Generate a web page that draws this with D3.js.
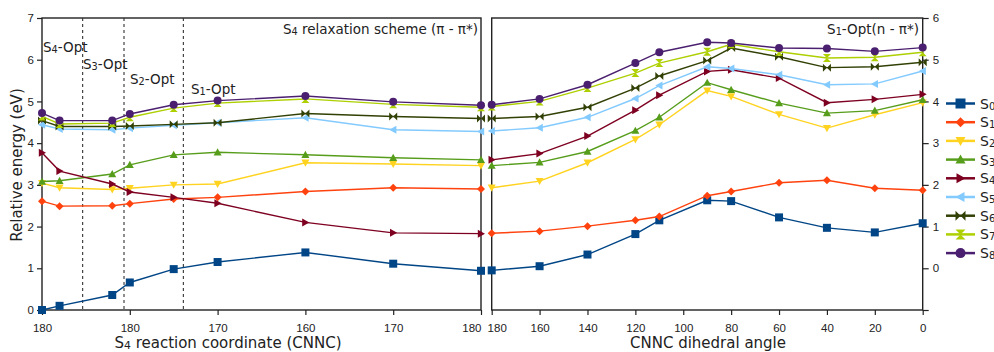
<!DOCTYPE html>
<html>
<head>
<meta charset="utf-8">
<script src="https://cdn.jsdelivr.net/npm/d3@7/dist/d3.min.js"></script>
<style>
  html, body { margin: 0; padding: 0; background: #fff; }
  svg { display: block; font-family: "DejaVu Sans", sans-serif; }
  .axis text { font-size: 11.5px; fill: #222; }
  .axis path, .axis line { stroke: #222; stroke-width: 1.2; }
</style>
</head>
<body>
<svg id="chart" width="994" height="352"></svg>
<script>
// ---- data ----
const seriesNames = ["S0", "S1", "S2", "S3", "S4", "S5", "S6", "S7", "S8"];
const seriesColors = ["#004586", "#ff420e", "#ffd320", "#579d1c", "#7e0021", "#83caff", "#314004", "#aecf00", "#4b1f6f"];
const seriesMarkers = ["square", "diamond", "down", "up", "right", "left", "bowtie", "hourglass", "circle"];

// S4 relaxation path: points along the reaction coordinate (tick index units)
const leftX = [0, 0.2, 0.8, 1, 1.5, 2, 3, 4, 5];
const leftTickValues = [0, 1, 2, 3, 4, 5];
const leftTickLabels = ["180", "180", "170", "160", "170", "180"];
// Relative energies (eV) of each state along the S4 relaxation path
const leftEnergies = [
  [0.00, 0.10, 0.36, 0.66, 0.98, 1.15, 1.38, 1.11, 0.94], // S0
  [2.61, 2.49, 2.50, 2.55, 2.66, 2.70, 2.84, 2.93, 2.90], // S1
  [3.04, 2.93, 2.89, 2.92, 3.00, 3.02, 3.53, 3.50, 3.46], // S2
  [3.08, 3.10, 3.26, 3.48, 3.72, 3.78, 3.72, 3.65, 3.60], // S3
  [3.77, 3.33, 3.02, 2.83, 2.70, 2.56, 2.10, 1.85, 1.83], // S4
  [4.44, 4.34, 4.32, 4.36, 4.43, 4.49, 4.61, 4.32, 4.28], // S5
  [4.54, 4.40, 4.40, 4.41, 4.45, 4.49, 4.71, 4.64, 4.59], // S6
  [4.64, 4.46, 4.48, 4.62, 4.84, 4.96, 5.06, 4.93, 4.86], // S7
  [4.72, 4.54, 4.54, 4.70, 4.92, 5.02, 5.13, 4.99, 4.91]  // S8
];
// optimised-geometry markers on the relaxation path
const optLines = [0.463, 0.934, 1.61];

// S1-Opt torsion scan: CNNC dihedral angle (degrees)
const rightX = [180, 160, 140, 120, 110, 90, 80, 60, 40, 20, 0];
const rightTickValues = [180, 160, 140, 120, 100, 80, 60, 40, 20, 0];
const rightAxisTicks = [-1, 0, 1, 2, 3, 4, 5, 6];
// Relative energies (eV, left-axis reference) along the dihedral scan
const rightEnergies = [
  [0.95, 1.05, 1.33, 1.82, 2.15, 2.63, 2.61, 2.22, 1.97, 1.86, 2.08], // S0
  [1.84, 1.89, 2.01, 2.15, 2.24, 2.74, 2.84, 3.05, 3.11, 2.92, 2.87], // S1
  [2.93, 3.09, 3.53, 4.09, 4.44, 5.26, 5.12, 4.69, 4.36, 4.68, 4.97], // S2
  [3.46, 3.54, 3.80, 4.30, 4.62, 5.45, 5.28, 4.96, 4.72, 4.78, 5.04], // S3
  [3.60, 3.75, 4.17, 4.79, 5.15, 5.72, 5.76, 5.56, 4.97, 5.05, 5.17], // S4
  [4.29, 4.37, 4.62, 5.07, 5.38, 5.83, 5.79, 5.64, 5.40, 5.42, 5.73], // S5
  [4.59, 4.64, 4.86, 5.32, 5.61, 5.98, 6.28, 6.07, 5.81, 5.83, 5.94], // S6
  [4.88, 5.00, 5.32, 5.68, 5.92, 6.19, 6.37, 6.19, 6.04, 6.06, 6.18], // S7
  [4.92, 5.06, 5.40, 5.92, 6.18, 6.42, 6.40, 6.28, 6.27, 6.20, 6.29]  // S8
];

// ---- layout ----
const svg = d3.select("#chart");
const plotTop = 18, plotBottom = 310;
const L = { x0: 42, x1: 481 };
const R = { x0: 491.7, x1: 922.7 };

const y = d3.scaleLinear().domain([0, 7]).range([plotBottom, plotTop]);
const yRight = d3.scaleLinear().domain([-1, 6]).range([plotBottom, plotTop]);
const xLeft = d3.scaleLinear().domain([0, 5]).range([L.x0, L.x1]);
const xRight = d3.scaleLinear().domain([180, 0]).range([R.x0, R.x1]);

// marker outlines centred on (0,0), half-size s
function markerPath(type, s) {
  const p = d3.path();
  switch (type) {
    case "square": p.rect(-s, -s, 2 * s, 2 * s); break;
    case "diamond": p.moveTo(0, -s); p.lineTo(s, 0); p.lineTo(0, s); p.lineTo(-s, 0); p.closePath(); break;
    case "down": p.moveTo(-s, -s * 0.8); p.lineTo(s, -s * 0.8); p.lineTo(0, s); p.closePath(); break;
    case "up": p.moveTo(-s, s * 0.8); p.lineTo(s, s * 0.8); p.lineTo(0, -s); p.closePath(); break;
    case "right": p.moveTo(-s * 0.8, -s); p.lineTo(-s * 0.8, s); p.lineTo(s, 0); p.closePath(); break;
    case "left": p.moveTo(s * 0.8, -s); p.lineTo(s * 0.8, s); p.lineTo(-s, 0); p.closePath(); break;
    case "bowtie":
      p.moveTo(-s, -s); p.lineTo(0, 0); p.lineTo(-s, s); p.closePath();
      p.moveTo(s, -s); p.lineTo(0, 0); p.lineTo(s, s); p.closePath(); break;
    case "hourglass":
      p.moveTo(-s, -s); p.lineTo(s, -s); p.lineTo(0, 0); p.closePath();
      p.moveTo(-s, s); p.lineTo(s, s); p.lineTo(0, 0); p.closePath(); break;
    case "circle": p.arc(0, 0, s, 0, 2 * Math.PI); break;
  }
  return p.toString();
}

// text with subscripted digits after "S"
function subText(sel, parts, size) {
  parts.forEach(([t, sub]) => {
    const ts = sel.append("tspan").text(t);
    if (sub) ts.attr("font-size", size * 0.72).attr("baseline-shift", "-10%");
  });
}

// ---- axes ----
svg.append("g").attr("class", "axis")
  .attr("transform", `translate(${L.x0},0)`)
  .call(d3.axisLeft(y).ticks(7).tickSize(5).tickPadding(3))
  .call(g => g.select(".domain").remove());

svg.append("g").attr("class", "axis")
  .attr("transform", `translate(0,${plotBottom})`)
  .call(d3.axisBottom(xLeft).tickValues(leftTickValues)
    .tickFormat((d, i) => leftTickLabels[i]).tickSize(5).tickPadding(9))
  .call(g => g.select(".domain").remove())
  // last label sits flush left of the panel edge so it clears the next panel
  .call(g => g.selectAll(".tick:last-of-type text").attr("text-anchor", "end").attr("x", 0));

svg.append("g").attr("class", "axis")
  .attr("transform", `translate(0,${plotBottom})`)
  .call(d3.axisBottom(xRight).tickValues(rightTickValues).tickSize(5).tickPadding(9))
  .call(g => g.select(".domain").remove())
  .call(g => g.select(".tick text").attr("x", 5));

svg.append("g").attr("class", "axis")
  .attr("transform", `translate(${R.x1},0)`)
  .call(d3.axisRight(yRight).tickValues(rightAxisTicks)
    .tickFormat(d => d < 0 ? "" : d).tickSize(6).tickPadding(4))
  .call(g => g.select(".domain").remove());

// panel frames
[L, R].forEach(P => {
  svg.append("rect")
    .attr("x", P.x0).attr("y", plotTop)
    .attr("width", P.x1 - P.x0).attr("height", plotBottom - plotTop)
    .attr("fill", "none").attr("stroke", "#222").attr("stroke-width", 1.4);
});

// optimised-geometry dividers
svg.append("g").selectAll("line").data(optLines).join("line")
  .attr("x1", d => xLeft(d)).attr("x2", d => xLeft(d))
  .attr("y1", plotTop).attr("y2", plotBottom)
  .attr("stroke", "#333").attr("stroke-width", 1.1)
  .attr("stroke-dasharray", "3,3");

const optLabels = [
  { parts: [["S"], ["4", true], ["-Opt"]], x: 43, y: 51.5 },
  { parts: [["S"], ["3", true], ["-Opt"]], x: 83, y: 69 },
  { parts: [["S"], ["2", true], ["-Opt"]], x: 130, y: 83.5 },
  { parts: [["S"], ["1", true], ["-Opt"]], x: 191, y: 94 }
];
optLabels.forEach(l => {
  const t = svg.append("text").attr("x", l.x).attr("y", l.y)
    .attr("font-size", 13.5).attr("fill", "#222");
  subText(t, l.parts, 13.5);
});

// panel titles
{
  const t = svg.append("text").attr("x", 478).attr("y", 34)
    .attr("text-anchor", "end").attr("font-size", 13.5).attr("fill", "#222");
  subText(t, [["S"], ["4", true], [" relaxation scheme (π - π*)"]], 13.5);
  const t2 = svg.append("text").attr("x", 919).attr("y", 34)
    .attr("text-anchor", "end").attr("font-size", 13.5).attr("fill", "#222");
  subText(t2, [["S"], ["1", true], ["-Opt(n - π*)"]], 13.5);
}

// axis titles
svg.append("text")
  .attr("transform", "translate(22,165) rotate(-90)")
  .attr("text-anchor", "middle").attr("font-size", 15).attr("fill", "#222")
  .text("Relative energy (eV)");
{
  const t = svg.append("text").attr("x", 228).attr("y", 348)
    .attr("text-anchor", "middle").attr("font-size", 15).attr("fill", "#222");
  subText(t, [["S"], ["4", true], [" reaction coordinate (CNNC)"]], 15);
}
svg.append("text").attr("x", 708).attr("y", 348)
  .attr("text-anchor", "middle").attr("font-size", 15).attr("fill", "#222")
  .text("CNNC dihedral angle");

// ---- series ----
function drawSeries(xs, energies, xScale) {
  const g = svg.append("g");
  energies.forEach((vals, i) => {
    const pts = vals.map((v, j) => [xScale(xs[j]), y(v)]);
    g.append("path")
      .attr("d", d3.line()(pts))
      .attr("fill", "none").attr("stroke", seriesColors[i]).attr("stroke-width", 1.4);
    g.selectAll(null).data(pts).join("path")
      .attr("transform", d => `translate(${d[0]},${d[1]})`)
      .attr("d", markerPath(seriesMarkers[i], 4))
      .attr("fill", seriesColors[i]);
  });
}
drawSeries(leftX, leftEnergies, xLeft);
drawSeries(rightX, rightEnergies, xRight);

// ---- legend ----
const legend = svg.append("g").attr("transform", "translate(946,103.5)");
seriesNames.forEach((name, i) => {
  const row = legend.append("g").attr("transform", `translate(0,${i * 18.7})`);
  row.append("line").attr("x1", 0).attr("x2", 29)
    .attr("stroke", seriesColors[i]).attr("stroke-width", 2.5);
  row.append("path").attr("transform", "translate(14.5,0)")
    .attr("d", markerPath(seriesMarkers[i], 5)).attr("fill", seriesColors[i]);
  const t = row.append("text").attr("x", 34).attr("y", 5)
    .attr("font-size", 14).attr("fill", "#222");
  subText(t, [[name[0]], [name.slice(1), true]], 14);
});
</script>
</body>
</html>
